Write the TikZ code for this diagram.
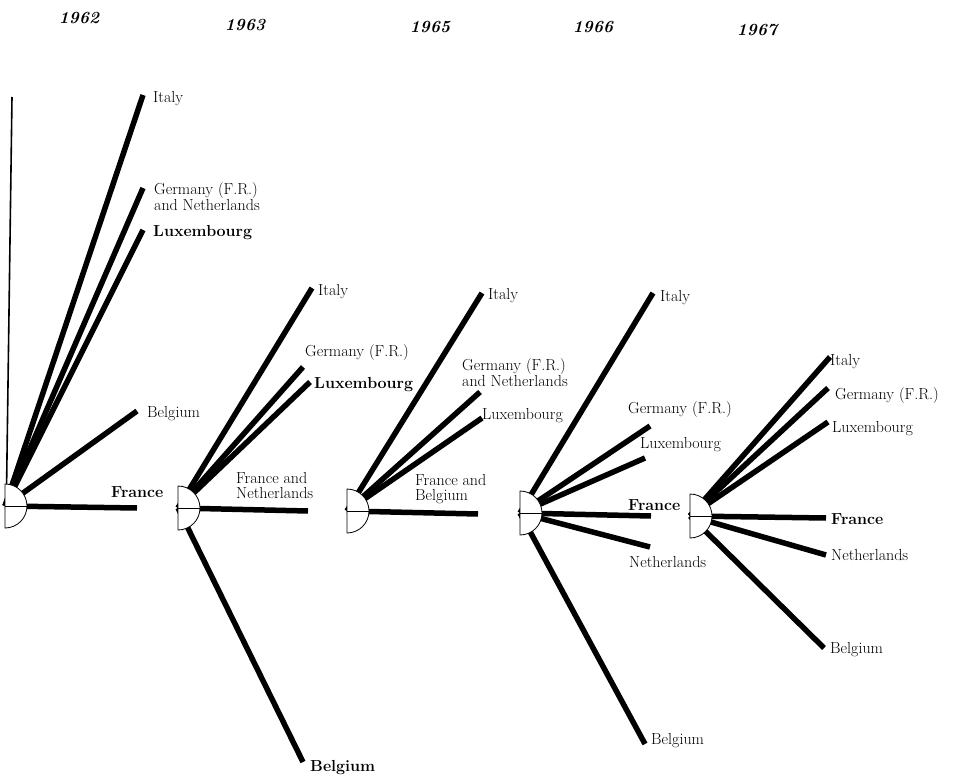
\documentclass[tikz,border=0pt]{standalone}
\begin{document}
\begin{tikzpicture}[x=1pt,y=-1pt,
  bar/.style={line width=5.5pt,line cap=butt},
  lbl/.style={anchor=west,inner sep=0pt,font=\fontsize{16}{15}\selectfont,align=left},
  lblb/.style={lbl,font=\fontsize{16}{15}\selectfont\bfseries},
  yr/.style={inner sep=0pt,font=\fontsize{17}{17}\selectfont\bfseries\itshape},
  hubfill/.style={fill=white,draw=black,line width=0.8pt},
  divider/.style={line width=0.5pt}]
\useasboundingbox (0,0) rectangle (972,778);

% years
\node[yr] (y62) at (79,18) {1962};
\node[yr] (y63) at (245,25) {1963};
\node[yr] (y65) at (430,27) {1965};
\node[yr] (y66) at (593,27) {1966};
\node[yr] (y67) at (757,30) {1967};

% hub centres
\coordinate (h1) at (5,506);
\coordinate (h2) at (178,508);
\coordinate (h3) at (347,511);
\coordinate (h4) at (520,513);
\coordinate (h5) at (690,516);

% 1962
\coordinate (v1top) at (12,97);
\coordinate (v1bot) at (6,528);
\draw[line width=1.6pt] (v1top) -- (v1bot);
\coordinate (e1it) at (143,95);
\coordinate (e1ge) at (143,188);
\coordinate (e1lu) at (143,230);
\coordinate (e1be) at (137,411);
\coordinate (e1fr) at (137,508);
\foreach \e in {e1it,e1ge,e1lu,e1be,e1fr} \draw[bar] (h1) -- (\e);
\node[lbl] (l1it) at (153,99) {Italy};
\node[lbl,anchor=north west] (l1ge) at (154,182) {Germany (F.R.)\\and Netherlands};
\node[lblb] (l1lu) at (153,233) {Luxembourg};
\node[lbl] (l1be) at (147,414) {Belgium};
\node[lblb] (l1fr) at (111,492) {France};

% 1963
\coordinate (e2it) at (312,288);
\coordinate (e2ge) at (303,367);
\coordinate (e2lu) at (310,382);
\coordinate (e2fr) at (308,511);
\coordinate (e2be) at (303,762);
\foreach \e in {e2it,e2ge,e2lu,e2fr,e2be} \draw[bar] (h2) -- (\e);
\node[lbl] (l2it) at (318,292) {Italy};
\node[lbl] (l2ge) at (305,353) {Germany (F.R.)};
\node[lblb] (l2lu) at (314,385) {Luxembourg};
\node[lbl,anchor=north west] (l2fr) at (236,472) {France and\\Netherlands};
\node[lblb] (l2be) at (310,768) {Belgium};

% 1965
\coordinate (e3it) at (482,293);
\coordinate (e3ge) at (480,392);
\coordinate (e3lu) at (482,418);
\coordinate (e3fr) at (478,514);
\foreach \e in {e3it,e3ge,e3lu,e3fr} \draw[bar] (h3) -- (\e);
\node[lbl] (l3it) at (488,296) {Italy};
\node[lbl,anchor=north west] (l3ge) at (462,358) {Germany (F.R.)\\and Netherlands};
\node[lbl] (l3lu) at (482,416) {Luxembourg};
\node[lbl,anchor=north west] (l3fr) at (415,474) {France and\\Belgium};

% 1966
\coordinate (e4it) at (653,293);
\coordinate (e4ge) at (650,426);
\coordinate (e4lu) at (645,458);
\coordinate (e4fr) at (651,516);
\coordinate (e4nl) at (650,547);
\coordinate (e4be) at (645,744);
\foreach \e in {e4it,e4ge,e4lu,e4fr,e4nl,e4be} \draw[bar] (h4) -- (\e);
\node[lbl] (l4it) at (660,298) {Italy};
\node[lbl] (l4ge) at (628,410) {Germany (F.R.)};
\node[lbl] (l4lu) at (640,445) {Luxembourg};
\node[lblb] (l4fr) at (628,505) {France};
\node[lbl] (l4nl) at (629,562) {Netherlands};
\node[lbl] (l4be) at (651,741) {Belgium};

% 1967
\coordinate (e5it) at (830,357);
\coordinate (e5ge) at (828,388);
\coordinate (e5lu) at (828,422);
\coordinate (e5fr) at (826,518);
\coordinate (e5nl) at (826,555);
\coordinate (e5be) at (824,648);
\foreach \e in {e5it,e5ge,e5lu,e5fr,e5nl,e5be} \draw[bar] (h5) -- (\e);
\node[lbl] (l5it) at (830,362) {Italy};
\node[lbl] (l5ge) at (835,396) {Germany (F.R.)};
\node[lbl] (l5lu) at (832,429) {Luxembourg};
\node[lblb] (l5fr) at (831,519) {France};
\node[lbl] (l5nl) at (831,555) {Netherlands};
\node[lbl] (l5be) at (830,650) {Belgium};

% hubs
\foreach \h in {h1,h2,h3,h4,h5}{
  \draw[hubfill] (\h) ++(0,-22) arc[start angle=90,end angle=-90,radius=22pt] -- cycle;
  \draw[divider] (\h) -- ++(22,0);
}
\end{tikzpicture}
\end{document}
